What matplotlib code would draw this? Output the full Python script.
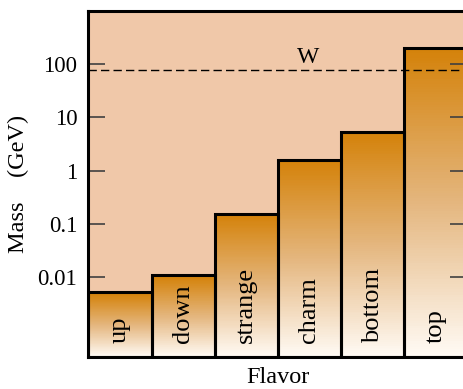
import matplotlib
matplotlib.use("Agg")
import matplotlib.pyplot as plt
from matplotlib.colors import LinearSegmentedColormap
import numpy as np

# quark masses in GeV
flavors = ["up", "down", "strange", "charm", "bottom", "top"]
masses = [0.005, 0.0105, 0.155, 1.6, 5.4, 205.0]
w_mass = 78.0

ymin, ymax = 10**-3.5, 1000.0

plt.rcParams["font.family"] = ["Liberation Serif", "DejaVu Serif"]

fig = plt.figure(figsize=(4.63, 3.89), dpi=100)
ax = fig.add_axes([88.3/463, 1 - 357/389, (467.5 - 88.3)/463, (357 - 11)/389])
ax.set_facecolor("#F0C8A9")

cmap = LinearSegmentedColormap.from_list("fade", ["#FFFAF4", "#E4B67E", "#D4820A"])

for i, m in enumerate(masses):
    # shade each bar from white at the base to orange at its top
    yedges = np.logspace(np.log10(ymin), np.log10(m), 120)
    xedges = np.array([i, i + 1])
    vals = np.linspace(0, 1, 119).reshape(-1, 1)
    ax.pcolormesh(xedges, yedges, vals, cmap=cmap, vmin=0, vmax=1,
                  shading="flat", antialiased=False, zorder=1, rasterized=True)

ax.bar(np.arange(len(masses)), masses, width=1.0, align="edge", bottom=ymin,
       fill=False, edgecolor="black", linewidth=2.2, zorder=2)

for i, name in enumerate(flavors):
    ax.text(i + 0.5, 0.041, name, transform=ax.get_xaxis_transform(),
            rotation=90, ha="center", va="bottom", fontsize=19, zorder=3)

ax.axhline(w_mass, color="black", linestyle=(0, (6, 3)), linewidth=1.0, zorder=3)
ax.text(3.47, w_mass * 1.1, "W", ha="center", va="bottom", fontsize=17, zorder=3)

ax.set_yscale("log")
ax.set_ylim(ymin, ymax)
ax.set_xlim(0, len(masses))
ax.set_yticks([0.01, 0.1, 1, 10, 100])
ax.set_yticklabels(["0.01", "0.1", "1", "10", "100"])
ax.minorticks_off()
ax.set_xticks([])
ax.tick_params(axis="y", direction="in", length=12, width=1.2, color="#404040",
               labelsize=16.5, pad=8, right=True)

for s in ax.spines.values():
    s.set_linewidth(2.2)
    s.set_zorder(4)

ax.set_xlabel("Flavor", fontsize=17.5, labelpad=7)
ax.set_ylabel("Mass    (GeV)", fontsize=17.5, labelpad=6)

fig.savefig("out.png", dpi=100)
